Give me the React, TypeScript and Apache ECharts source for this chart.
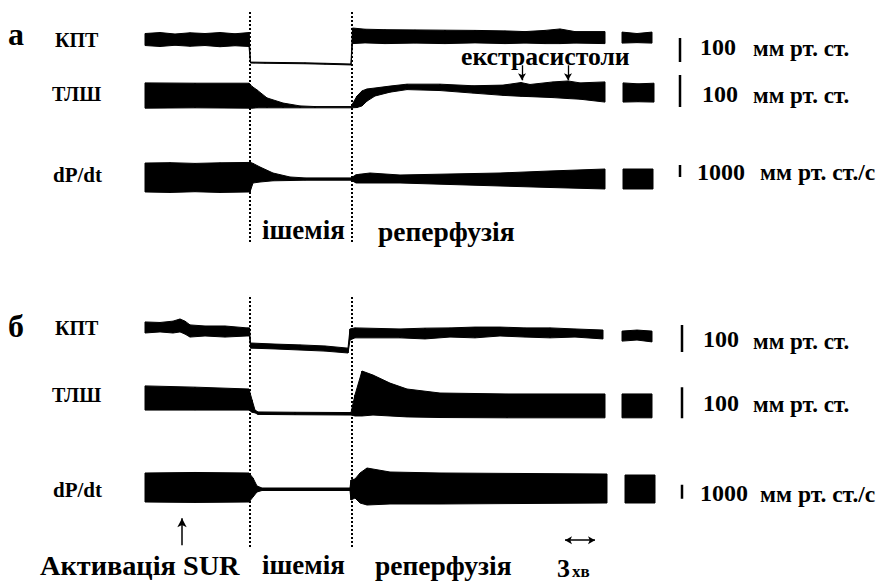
import React, { useEffect, useRef } from "react";
import * as echarts from "echarts";

// ---------- time markers (minutes) ----------
const ischemiaStart = 10.5;
const ischemiaEnd = 20.7;
const surActivationT = 3.7;
const timeBarT = [42, 45]; // 3 хв scale bar
const extrasystoleT = [37.7, 42.3];
const scaleBarTa = 53.5;
const scaleBarTb = 53.7;

// ---------- panel а : [t (min), low, high] envelopes ----------
// КПТ, mm Hg
const aKptMain = [
  [0, 102, 152], [1.5, 98, 156], [3, 103, 150], [4.5, 99, 155], [6, 102, 152],
  [7.5, 97, 156], [9, 101, 151], [10.4, 98, 156],
  [10.55, 29, 33], [12, 28, 32], [14, 27, 31], [16, 26, 30], [18, 24, 28], [20.6, 21, 25],
  [20.75, 110, 175], [22, 113, 170], [24, 110, 168], [27, 112, 167], [30, 110, 166],
  [33, 113, 165], [36, 110, 163], [38, 112, 160], [40, 110, 165], [41.5, 110, 171],
  [43, 112, 160], [46, 110, 160],
];
const aKptTail = [[47.7, 112, 158], [49.2, 114, 152], [50.7, 112, 158]];
// ТЛШ, mm Hg
const aTlshMain = [
  [0, 12, 91], [5, 13, 90], [10.4, 12, 90], [10.7, 12, 80], [11.2, 13, 69],
  [12.2, 13, 44], [13.8, 13, 28], [15.5, 13, 19], [17, 13, 17], [20.6, 13, 17],
  [21.2, 14, 50], [21.7, 19, 66], [22.2, 34, 72], [23, 50, 75], [24.5, 62, 81],
  [26.2, 70, 87], [29.5, 67, 87], [32.8, 59, 82], [35.8, 52, 84], [37.6, 49, 92],
  [38.5, 48, 86], [40.8, 45, 94], [42.3, 42, 97], [43.5, 40, 91], [46, 31, 94],
];
const aTlshTail = [[47.8, 31, 91], [49.3, 32, 88], [50.9, 31, 90]];
// dP/dt, mm Hg/s
const aDpdtMain = [
  [0, -1080, 1330], [2.5, -1120, 1360], [5, -1060, 1300], [7.5, -1120, 1350],
  [10.4, -1080, 1380], [10.5, -1080, 1400], [10.8, -333, 1300], [11.5, -250, 1000],
  [12.8, -150, 500], [14.5, -125, 167], [16, -100, 90], [20.6, -100, 90],
  [21.1, -330, 350], [21.5, -333, 400], [22.5, -333, 500], [25.5, -333, 333],
  [30.5, -458, 417], [35.5, -583, 500], [40.5, -708, 667], [46, -833, 833],
];
const aDpdtTail = [[47.8, -833, 833], [50.8, -833, 833]];

// ---------- panel б ----------
const bKptMain = [
  [0, 137, 178], [1.5, 141, 176], [2.8, 137, 181], [3.5, 141, 189], [4, 133, 181],
  [4.5, 122, 167], [6, 126, 163], [8, 122, 163], [10.2, 126, 156], [10.45, 126, 156],
  [10.55, 81, 100], [13, 78, 96], [15.5, 74, 93], [18, 70, 89], [20.3, 63, 81],
  [20.5, 111, 152], [21, 119, 156], [25.5, 119, 152], [28, 115, 155], [30.5, 122, 156],
  [33, 119, 159], [35.5, 126, 159], [38, 122, 156], [40.5, 119, 156], [43, 122, 152],
  [45.8, 115, 148],
];
const bKptTail = [[47.7, 107, 144], [49.2, 111, 148], [50.7, 104, 144]];
const bTlshMain = [
  [0, 32, 110], [5, 32, 106], [10.4, 32, 100], [10.7, 25, 65], [11, 23, 32],
  [11.3, 18, 26], [15, 17, 25], [20.6, 16, 24],
  [21, 13, 81], [21.7, 13, 158], [22.8, 16, 145], [24.5, 13, 119], [26.2, 10, 100],
  [29.5, 8, 87], [36.2, 7, 84], [46, 7, 84],
];
const bTlshTail = [[47.7, 7, 84], [50.7, 7, 84]];
const bDpdtMain = [
  [0, -929, 1143], [5, -960, 1180], [10.4, -929, 1143], [10.8, -571, 786],
  [11.2, -214, 214], [11.7, -107, 71], [20.5, -107, 71],
  [20.6, -786, 643], [21, -643, 714], [21.5, -1000, 1143], [22.2, -1143, 1500],
  [24.5, -1071, 1214], [29.5, -1071, 1143], [46.2, -1000, 1071],
];
const bDpdtTail = [[48, -1000, 1000], [51, -1000, 1000]];

// ---------- scale bars (value ranges) ----------
const aKptScale = [33, 133];
const aTlshScale = [16, 116];
const aDpdtScale = [167, 1167];
const bKptScale = [67, 167];
const bTlshScale = [6, 106];
const bDpdtScale = [-700, 300];

// ---------- labels ----------
const traceLabels = ["КПТ", "ТЛШ", "dP/dt"];
const unitLabels = ["мм рт. ст.", "мм рт. ст.", "мм рт. ст./с"];
const scaleLabels = ["100", "100", "1000"];

const SERIF = "'Liberation Serif', 'DejaVu Serif Condensed', 'DejaVu Serif', serif";

// layout of each trace: pixel row of zero, pixels per unit, y range
const traceLayouts = [
  { zeroY: 70, ppu: 0.24, min: 0, max: 200 },
  { zeroY: 112, ppu: 0.32, min: 0, max: 130 },
  { zeroY: 179, ppu: 0.012, min: -2000, max: 3000 },
  { zeroY: 370, ppu: 0.27, min: 0, max: 220 },
  { zeroY: 420, ppu: 0.31, min: 0, max: 180 },
  { zeroY: 489, ppu: 0.014, min: -2000, max: 2000 },
];

const GRID_LEFT = 145;
const GRID_WIDTH = 545;
const X_MAX = 54.5;

function bandSeries(data: number[][], idx: number) {
  return {
    type: "custom",
    xAxisIndex: idx,
    yAxisIndex: idx,
    silent: true,
    clip: false,
    data,
    encode: { x: 0, y: [1, 2] },
    renderItem: (params: any, api: any) => {
      const i = params.dataIndex;
      if (i >= data.length - 1) return null;
      const a = data[i];
      const b = data[i + 1];
      const pts = [
        api.coord([a[0], a[1]]),
        api.coord([a[0], a[2]]),
        api.coord([b[0], b[2]]),
        api.coord([b[0], b[1]]),
      ];
      return {
        type: "polygon",
        shape: { points: pts },
        style: { fill: "#000", stroke: "#000", lineWidth: 1, lineJoin: "round" },
      };
    },
  };
}

function scaleSeries(t: number, range: number[], idx: number) {
  return {
    type: "line",
    xAxisIndex: idx,
    yAxisIndex: idx,
    silent: true,
    symbol: "none",
    data: [[t, range[0]], [t, range[1]]],
    lineStyle: { color: "#000", width: 2.5 },
  };
}

function txt(text: string, x: number, y: number, size: number) {
  return {
    type: "text",
    x,
    y,
    silent: true,
    style: {
      text,
      fill: "#000",
      fontFamily: SERIF,
      fontSize: size,
      fontWeight: "bold",
      align: "left",
      verticalAlign: "middle",
    },
  };
}

export default function App() {
  const ref = useRef<HTMLDivElement>(null);

  useEffect(() => {
    if (!ref.current) return;
    const chart = echarts.init(ref.current, undefined, { renderer: "svg" });

    const grids: any[] = traceLayouts.map((l) => ({
      left: GRID_LEFT,
      width: GRID_WIDTH,
      top: l.zeroY - l.max * l.ppu,
      height: (l.max - l.min) * l.ppu,
    }));
    // panel-level grids for the event markers
    grids.push({ left: GRID_LEFT, width: GRID_WIDTH, top: 11, height: 231 }); // 6
    grids.push({ left: GRID_LEFT, width: GRID_WIDTH, top: 297, height: 250 }); // 7
    grids.push({ left: GRID_LEFT, width: GRID_WIDTH, top: 505, height: 55 }); // 8 annotations

    const xAxis = grids.map((_, i) => ({
      type: "value", gridIndex: i, min: 0, max: X_MAX, show: false,
    }));
    const yAxis = grids.map((_, i) => {
      if (i < 6) {
        const l = traceLayouts[i];
        return { type: "value", gridIndex: i, min: l.min, max: l.max, show: false };
      }
      return { type: "value", gridIndex: i, min: 0, max: i === 8 ? 10 : 1, show: false };
    });

    const mains = [aKptMain, aTlshMain, aDpdtMain, bKptMain, bTlshMain, bDpdtMain];
    const tails = [aKptTail, aTlshTail, aDpdtTail, bKptTail, bTlshTail, bDpdtTail];
    const scales = [aKptScale, aTlshScale, aDpdtScale, bKptScale, bTlshScale, bDpdtScale];

    const series: any[] = [];
    mains.forEach((d, i) => series.push(bandSeries(d, i)));
    tails.forEach((d, i) => series.push(bandSeries(d, i)));
    scales.forEach((r, i) => series.push(scaleSeries(i < 3 ? scaleBarTa : scaleBarTb, r, i)));

    [6, 7].forEach((g) => {
      series.push({
        type: "line",
        xAxisIndex: g,
        yAxisIndex: g,
        silent: true,
        symbol: "none",
        data: [[ischemiaStart, 0], [ischemiaEnd, 1]],
        lineStyle: { width: 0, opacity: 0 },
        markLine: {
          silent: true,
          symbol: "none",
          label: { show: false },
          lineStyle: { color: "#000", width: 2, type: [2, 2] },
          data: [{ xAxis: ischemiaStart }, { xAxis: ischemiaEnd }],
        },
      });
    });

    // extrasystole arrows (panel а)
    series.push({
      type: "line",
      xAxisIndex: 6,
      yAxisIndex: 6,
      silent: true,
      symbol: "none",
      data: [[extrasystoleT[0], 0.5]],
      lineStyle: { width: 0, opacity: 0 },
      markLine: {
        silent: true,
        label: { show: false },
        lineStyle: { color: "#000", width: 1.3, type: "solid" },
        data: extrasystoleT.map((t) => [
          { coord: [t, 0.765], symbol: "none" },
          { coord: [t, 0.7], symbol: "arrow", symbolSize: [6, 7] },
        ]),
      },
    });

    series.push({
      type: "line",
      xAxisIndex: 8,
      yAxisIndex: 8,
      silent: true,
      symbol: "none",
      data: [[surActivationT, 0]],
      lineStyle: { width: 0, opacity: 0 },
      markLine: {
        silent: true,
        label: { show: false },
        lineStyle: { color: "#000", width: 1.5, type: "solid" },
        data: [
          [
            { coord: [surActivationT, 2.7], symbol: "none" },
            { coord: [surActivationT, 7.6], symbol: "arrow", symbolSize: [7, 9] },
          ],
          [
            { coord: [timeBarT[0], 3.6], symbol: "arrow", symbolSize: [6, 7] },
            { coord: [timeBarT[1], 3.6], symbol: "arrow", symbolSize: [6, 7] },
          ],
        ],
      },
    });

    const elements: any[] = [
      txt("а", 8, 34, 32),
      txt(traceLabels[0], 55, 40, 20),
      txt(traceLabels[1], 52, 94, 20),
      txt(traceLabels[2], 53, 175, 21),
      txt("ішемія", 262, 230, 27),
      txt("реперфузія", 378, 231, 27.5),
      txt("екстрасистоли", 461, 56, 25.7),
      txt(scaleLabels[0], 700, 47, 24),
      txt(unitLabels[0], 753, 48, 23),
      txt(scaleLabels[1], 702, 94, 24),
      txt(unitLabels[1], 753, 95, 23),
      txt(scaleLabels[2], 697, 172, 24),
      txt(unitLabels[2], 760, 172, 23.5),

      txt("б", 8, 326, 32),
      txt(traceLabels[0], 55, 328, 20),
      txt(traceLabels[1], 52, 395, 20),
      txt(traceLabels[2], 53, 490, 21),
      txt("Активація SUR", 40, 565, 28.3),
      txt("ішемія", 262, 565, 27),
      txt("реперфузія", 375, 565, 27.5),
      txt("3", 557, 568, 26),
      txt("хв", 572, 571, 17),
      txt(scaleLabels[0], 703, 339, 24),
      txt(unitLabels[0], 753, 341, 23),
      txt(scaleLabels[1], 703, 403, 24),
      txt(unitLabels[1], 753, 404, 23),
      txt(scaleLabels[2], 700, 493, 24),
      txt(unitLabels[2], 760, 494, 23.5),
    ];

    chart.setOption({
      animation: false,
      backgroundColor: "#fff",
      grid: grids,
      xAxis,
      yAxis,
      series,
      graphic: { elements },
    });

    return () => chart.dispose();
  }, []);

  return (
    <div
      ref={ref}
      style={{ position: "absolute", left: 0, top: 0, width: 883, height: 583 }}
    />
  );
}
